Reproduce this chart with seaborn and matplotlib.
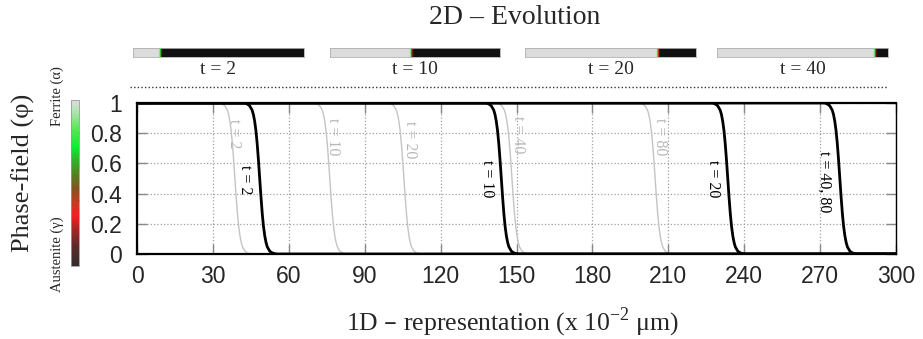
import numpy as np
import pandas as pd
import matplotlib
matplotlib.use("Agg")
import matplotlib.pyplot as plt
import seaborn as sns
from matplotlib.colors import LinearSegmentedColormap, Normalize
from matplotlib.cm import ScalarMappable
from matplotlib.lines import Line2D

# ---------------- data ----------------
domain = [0.0, 300.0]
# interface shape: offset from interface centre (x 10^-2 um) -> phase-field value
profile_dx = [-6, -5, -4, -3, -2.5, -2, -1.5, -1, -0.5, 0, 0.5, 1, 1.5, 2, 2.5, 3, 4, 5, 6, 7]
profile_phi = [1.0, 0.994, 0.982, 0.953, 0.924, 0.880, 0.818, 0.731, 0.622, 0.5,
               0.378, 0.269, 0.182, 0.120, 0.076, 0.047, 0.018, 0.007, 0.002, 0.0]

gray_labels = ["t = 2", "t = 10", "t = 20", "t = 40", "t = 80"]
gray_centers = [38.7, 76.2, 105.5, 148.2, 204.8]
gray_label_x = [38.3, 77.5, 107.8, 150.6, 206.8]
gray_label_y = [0.80, 0.78, 0.755, 0.79, 0.78]

black_labels = ["t = 2", "t = 10", "t = 20", "t = 40, 80"]
black_centers = [48.5, 144.0, 233.5, 277.8]
black_label_x = [42.8, 138.4, 227.6, 271.8]
black_label_y = [0.49, 0.50, 0.50, 0.48]

strip_labels = ["t = 2", "t = 10", "t = 20", "t = 40"]

x_ticks = [0, 30, 60, 90, 120, 150, 180, 210, 240, 270, 300]
y_ticks = [0, 0.2, 0.4, 0.6, 0.8, 1.0]
y_ticklabels = ["0", "0.2", "0.4", "0.6", "0.8", "1"]
cbar_ticks = [0.2, 0.4, 0.6, 0.8]


def build_curve(center):
    xs = np.concatenate([[domain[0]], center + np.asarray(profile_dx, float), [domain[1]]])
    ph = np.concatenate([[1.0], np.asarray(profile_phi, float), [0.0]])
    return xs, ph


rows = []
for lab, c in zip(gray_labels, gray_centers):
    xs, ph = build_curve(c)
    for a, b in zip(xs, ph):
        rows.append(("gray", lab, a, b))
for lab, c in zip(black_labels, black_centers):
    xs, ph = build_curve(c)
    for a, b in zip(xs, ph):
        rows.append(("black", lab, a, b))
df = pd.DataFrame(rows, columns=["set", "curve", "x", "phi"])

# ---------------- style ----------------
sns.set_theme(style="white")
plt.rcParams["font.family"] = ["Liberation Serif", "DejaVu Serif"]
SANS = ["Liberation Sans", "DejaVu Sans"]
SERIF = ["Liberation Serif", "DejaVu Serif"]

cmap_bar = LinearSegmentedColormap.from_list("phase", [
    (0.00, "#332c2c"), (0.12, "#5e2a2a"), (0.22, "#a82424"), (0.30, "#f02222"),
    (0.38, "#c83a20"), (0.46, "#8a5020"), (0.54, "#5a7a20"), (0.63, "#30b028"),
    (0.72, "#10ee30"), (0.82, "#50e850"), (0.92, "#a8e4a8"), (1.00, "#dedede")])
cmap_strip = LinearSegmentedColormap.from_list("strip", [
    (0.00, "#111111"), (0.15, "#601818"), (0.30, "#f02020"), (0.45, "#8a5020"),
    (0.60, "#30b028"), (0.72, "#10ee30"), (0.88, "#90e090"), (1.00, "#dcdcdc")])

W, H = 923, 339
fig = plt.figure(figsize=(W / 100, H / 100), dpi=100)


def fx(px):
    return px / W


def fy(py):
    return 1 - py / H


ax = fig.add_axes([fx(137), fy(254), fx(896) - fx(137), fy(103) - fy(254)])

sns.lineplot(data=df[df["set"] == "gray"], x="x", y="phi", units="curve", estimator=None,
             color="#c4c4c4", lw=1.0, ax=ax, legend=False, sort=False)
sns.lineplot(data=df[df["set"] == "black"], x="x", y="phi", units="curve", estimator=None,
             color="#000000", lw=2.0, ax=ax, legend=False, sort=False)

ax.set_xlim(domain[0], domain[1])
ax.set_ylim(0, 1)
ax.set_xticks(x_ticks)
ax.set_xticklabels([str(v) for v in x_ticks], fontfamily=SANS, fontsize=16.5)
ax.set_yticks(y_ticks)
ax.set_yticklabels(y_ticklabels, fontfamily=SANS, fontsize=16.5)
ax.tick_params(axis="both", direction="in", length=7, width=1, color="#888888",
               top=True, right=True, bottom=True, left=True)
ax.tick_params(axis="x", pad=8)
ax.tick_params(axis="y", pad=11)
ax.grid(True, ls=":", color="#a0a0a0", lw=0.9)
for s in ["left", "top", "bottom"]:
    ax.spines[s].set_color("#000000")
    ax.spines[s].set_linewidth(1.6)
ax.spines["right"].set_color("#000000")
ax.spines["right"].set_linewidth(1.0)
ax.set_xlabel("")
ax.set_ylabel("")

for lab, xx, yy in zip(gray_labels, gray_label_x, gray_label_y):
    ax.text(xx, yy, lab, rotation=270, ha="center", va="center", fontsize=11.5,
            color="#b8b8b8", fontfamily=SERIF)
for lab, xx, yy in zip(black_labels, black_label_x, black_label_y):
    ax.text(xx, yy, lab, rotation=270, ha="center", va="center", fontsize=11.5,
            color="#000000", fontfamily=SERIF)

# axis labels and title
fig.text(fx(512), fy(322), "1D – representation (x 10$^{\\mathregular{-2}}$ μm)",
         ha="center", va="center", fontsize=18.5, fontfamily=SERIF)
fig.text(fx(23), fy(173), "Phase-field (φ)", rotation=90, ha="center", va="center",
         fontsize=19, fontfamily=SERIF)
fig.text(fx(515), fy(18), "2D – Evolution", ha="center", va="center", fontsize=20,
         fontfamily=SERIF)

# colour bar
cax = fig.add_axes([fx(71), fy(266), fx(79) - fx(71), fy(100) - fy(266)])
cb = fig.colorbar(ScalarMappable(norm=Normalize(0, 1), cmap=cmap_bar), cax=cax)
cb.outline.set_edgecolor("#999999")
cb.outline.set_linewidth(0.6)
cax.set_yticks(cbar_ticks)
cax.tick_params(axis="y", direction="in", length=2.5, width=0.8, color="#333333",
                left=True, right=True, labelleft=False, labelright=False)
fig.text(fx(57), fy(96), "Ferrite (α)", rotation=90, ha="center", va="center",
         fontsize=10.5, fontfamily=SERIF)
fig.text(fx(57), fy(254), "Austenite (γ)", rotation=90, ha="center", va="center",
         fontsize=10.5, fontfamily=SERIF)

# 2D evolution strips
strip_px = [(133, 304), (330, 500), (525, 696), (717, 888)]
for (x0, x1), lab, c in zip(strip_px, strip_labels, black_centers):
    sax = fig.add_axes([fx(x0), fy(57), fx(x1) - fx(x0), fy(48) - fy(57)])
    xs, ph = build_curve(c)
    sax.pcolormesh(xs, [0, 1], np.vstack([ph, ph]), cmap=cmap_strip, vmin=0, vmax=1,
                   shading="nearest")
    sax.set_xlim(domain[0], domain[1])
    sax.set_xticks([])
    sax.set_yticks([])
    for s in sax.spines.values():
        s.set_color("#b0b0b0")
        s.set_linewidth(0.6)
    fig.text(fx((x0 + x1) / 2), fy(69), lab, ha="center", va="center", fontsize=14,
             fontfamily=SERIF)

fig.add_artist(Line2D([fx(130), fx(888)], [fy(87), fy(87)], transform=fig.transFigure,
                      ls=(0, (1, 1.6)), color="#333333", lw=1.0))

fig.savefig("out.png", dpi=100)
